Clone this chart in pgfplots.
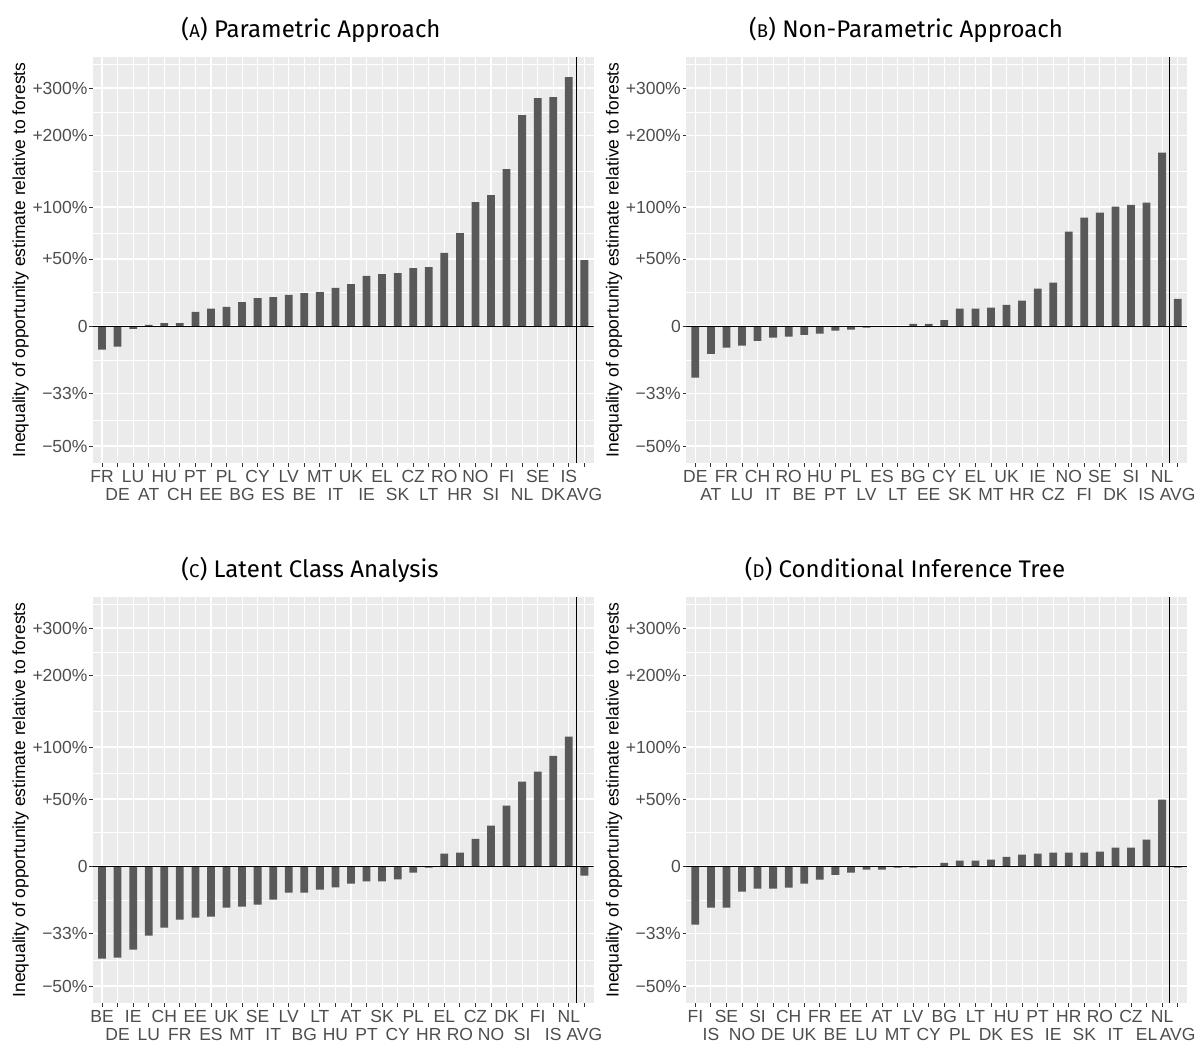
\documentclass[border=0pt]{standalone}
\usepackage{pgfplots}
\pgfplotsset{compat=1.18}
\usepackage{pgfplotstable}
\usepackage{fontspec}
\setmainfont{Liberation Sans}
\newfontfamily\titlefont{Fira Sans}

\definecolor{panelbg}{HTML}{EBEBEB}
\definecolor{barcol}{HTML}{595959}
\definecolor{ticklab}{HTML}{4D4D4D}
\definecolor{tickcol}{HTML}{333333}

\newcommand\tk{\fontsize{17.5bp}{20bp}\selectfont}
\newcommand\ttl{\titlefont\fontsize{24bp}{27bp}\selectfont}
\newcommand\sm[1]{{\fontsize{18.5bp}{20bp}\selectfont #1}}

% values: log ratio of estimate to forests (axis units)
\pgfplotstableread{
i lab v
0 FR -0.138
1 DE -0.120
2 LU -0.016
3 AT 0.006
4 HU 0.017
5 CH 0.017
6 PT 0.082
7 EE 0.101
8 PL 0.111
9 BG 0.140
10 CY 0.163
11 ES 0.169
12 LV 0.181
13 BE 0.192
14 MT 0.198
15 IT 0.222
16 UK 0.245
17 EL 0.292
18 IE 0.303
19 SK 0.309
20 CZ 0.338
21 LT 0.344
22 RO 0.426
23 HR 0.542
24 NO 0.723
25 SI 0.764
26 FI 0.915
27 NL 1.230
28 SE 1.329
29 DK 1.335
30 IS 1.452
31 AVG 0.385
}\tabA

\pgfplotstableread{
i lab v
0 DE -0.301
1 AT -0.163
2 FR -0.126
3 LU -0.115
4 CH -0.086
5 IT -0.068
6 RO -0.062
7 BE -0.051
8 HU -0.045
9 PT -0.027
10 PL -0.021
11 LV -0.010
12 ES -0.002
13 LT 0.000
14 BG 0.012
15 EE 0.012
16 CY 0.035
17 SK 0.101
18 EL 0.101
19 MT 0.107
20 UK 0.124
21 HR 0.148
22 IE 0.218
23 CZ 0.253
24 NO 0.550
25 FI 0.632
26 SE 0.661
27 DK 0.696
28 SI 0.707
29 IS 0.719
30 NL 1.011
31 AVG 0.159
}\tabB

\pgfplotstableread{
i lab v
0 BE -0.540
1 DE -0.534
2 IE -0.488
3 LU -0.406
4 CH -0.360
5 FR -0.313
6 EE -0.301
7 ES -0.295
8 UK -0.243
9 MT -0.237
10 SE -0.225
11 IT -0.196
12 LV -0.155
13 BG -0.155
14 LT -0.138
15 HU -0.124
16 AT -0.103
17 PT -0.089
18 SK -0.089
19 CY -0.078
20 PL -0.039
21 HR -0.010
22 EL 0.072
23 RO 0.078
24 CZ 0.159
25 NO 0.235
26 DK 0.352
27 SI 0.492
28 FI 0.550
29 IS 0.643
30 NL 0.754
31 AVG -0.056
}\tabC

\pgfplotstableread{
i lab v
0 FI -0.342
1 IS -0.243
2 SE -0.243
3 NO -0.150
4 SI -0.132
5 DE -0.132
6 CH -0.126
7 UK -0.103
8 FR -0.080
9 BE -0.051
10 EE -0.039
11 LU -0.021
12 AT -0.021
13 MT -0.010
14 LV -0.010
15 CY -0.004
16 BG 0.019
17 PL 0.031
18 LT 0.031
19 DK 0.037
20 HU 0.054
21 ES 0.066
22 PT 0.072
23 IE 0.078
24 HR 0.078
25 SK 0.078
26 RO 0.084
27 IT 0.107
28 CZ 0.107
29 EL 0.154
30 NL 0.387
31 AVG -0.010
}\tabD

\pgfplotsset{
  oppstyle/.style={
    scale only axis, width=501bp, height=406bp,
    xmin=-0.6, xmax=31.6, ymin=-0.799, ymax=1.569,
    axis background/.style={fill=panelbg},
    axis line style={draw=none},
    tick align=outside, xtick pos=left, ytick pos=left,
    major tick length=3.5bp, minor tick length=0pt,
    every tick/.style={tickcol, line width=0.9bp},
    grid=both,
    major grid style={white, line width=1.1bp},
    minor grid style={white, line width=0.55bp},
    ytick={-0.700,-0.395,0,0.391,0.694,1.110,1.388},
    yticklabels={−50\%,−33\%,0,+50\%,+100\%,+200\%,+300\%},
    minor ytick={-0.548,-0.198,0.196,0.543,0.902,1.249,1.527},
    xtick={0,2,...,30},
    extra x ticks={1,3,...,31},
    extra x tick style={xticklabel style={yshift=-18bp}},
    ticklabel style={font=\tk, text=ticklab},
    xticklabel style={anchor=north, inner sep=0pt, yshift=-3.5bp},
    yticklabel style={anchor=east, inner sep=0pt, xshift=-1.5bp},
    ylabel={Inequality of opportunity estimate relative to forests},
    every axis y label/.style={at={(axis description cs:-0.1437,0.5)}, rotate=90, anchor=center, font=\tk},
  },
  bars/.style={ybar, bar width=0.5, fill=barcol, draw=none},
  refline/.style={black, line width=0.9bp},
}

\begin{document}
\begin{tikzpicture}
\useasboundingbox (0,0) rectangle (1197bp,-1041bp);

% (A)
\begin{axis}[oppstyle, at={(92.7bp,-463bp)}, anchor=south west,
  xticklabels={FR,LU,HU,PT,PL,CY,LV,MT,UK,EL,CZ,RO,NO,FI,SE,IS},
  extra x tick labels={DE,AT,CH,EE,BG,ES,BE,IT,IE,SK,LT,HR,SI,NL,DK,AVG}]
\addplot[bars] table[x=i, y=v] {\tabA};
\addplot[refline] coordinates {(-0.6,0) (31.6,0)};
\addplot[refline] coordinates {(30.5,-0.799) (30.5,1.569)};
\end{axis}

% (B)
\begin{axis}[oppstyle, at={(686bp,-463bp)}, anchor=south west,
  xticklabels={DE,FR,CH,RO,HU,PL,ES,BG,CY,EL,UK,IE,NO,SE,SI,NL},
  extra x tick labels={AT,LU,IT,BE,PT,LV,LT,EE,SK,MT,HR,CZ,FI,DK,IS,AVG}]
\addplot[bars] table[x=i, y=v] {\tabB};
\addplot[refline] coordinates {(-0.6,0) (31.6,0)};
\addplot[refline] coordinates {(30.5,-0.799) (30.5,1.569)};
\end{axis}

% (C)
\begin{axis}[oppstyle, at={(92.7bp,-1003bp)}, anchor=south west,
  xticklabels={BE,IE,CH,EE,UK,SE,LV,LT,AT,SK,PL,EL,CZ,DK,FI,NL},
  extra x tick labels={DE,LU,FR,ES,MT,IT,BG,HU,PT,CY,HR,RO,NO,SI,IS,AVG}]
\addplot[bars] table[x=i, y=v] {\tabC};
\addplot[refline] coordinates {(-0.6,0) (31.6,0)};
\addplot[refline] coordinates {(30.5,-0.799) (30.5,1.569)};
\end{axis}

% (D)
\begin{axis}[oppstyle, at={(686bp,-1003bp)}, anchor=south west,
  xticklabels={FI,SE,SI,CH,FR,EE,AT,LV,BG,LT,HU,PT,HR,RO,CZ,NL},
  extra x tick labels={IS,NO,DE,UK,BE,LU,MT,CY,PL,DK,ES,IE,SK,IT,EL,AVG}]
\addplot[bars] table[x=i, y=v] {\tabD};
\addplot[refline] coordinates {(-0.6,0) (31.6,0)};
\addplot[refline] coordinates {(30.5,-0.799) (30.5,1.569)};
\end{axis}

\node[anchor=base, font=\ttl] at (311bp,-37bp) {(\sm{A}) Parametric Approach};
\node[anchor=base, font=\ttl] at (906bp,-37bp) {(\sm{B}) Non-Parametric Approach};
\node[anchor=base, font=\ttl] at (310bp,-577bp) {(\sm{C}) Latent Class Analysis};
\node[anchor=base, font=\ttl] at (905bp,-577bp) {(\sm{D}) Conditional Inference Tree};
\end{tikzpicture}
\end{document}
